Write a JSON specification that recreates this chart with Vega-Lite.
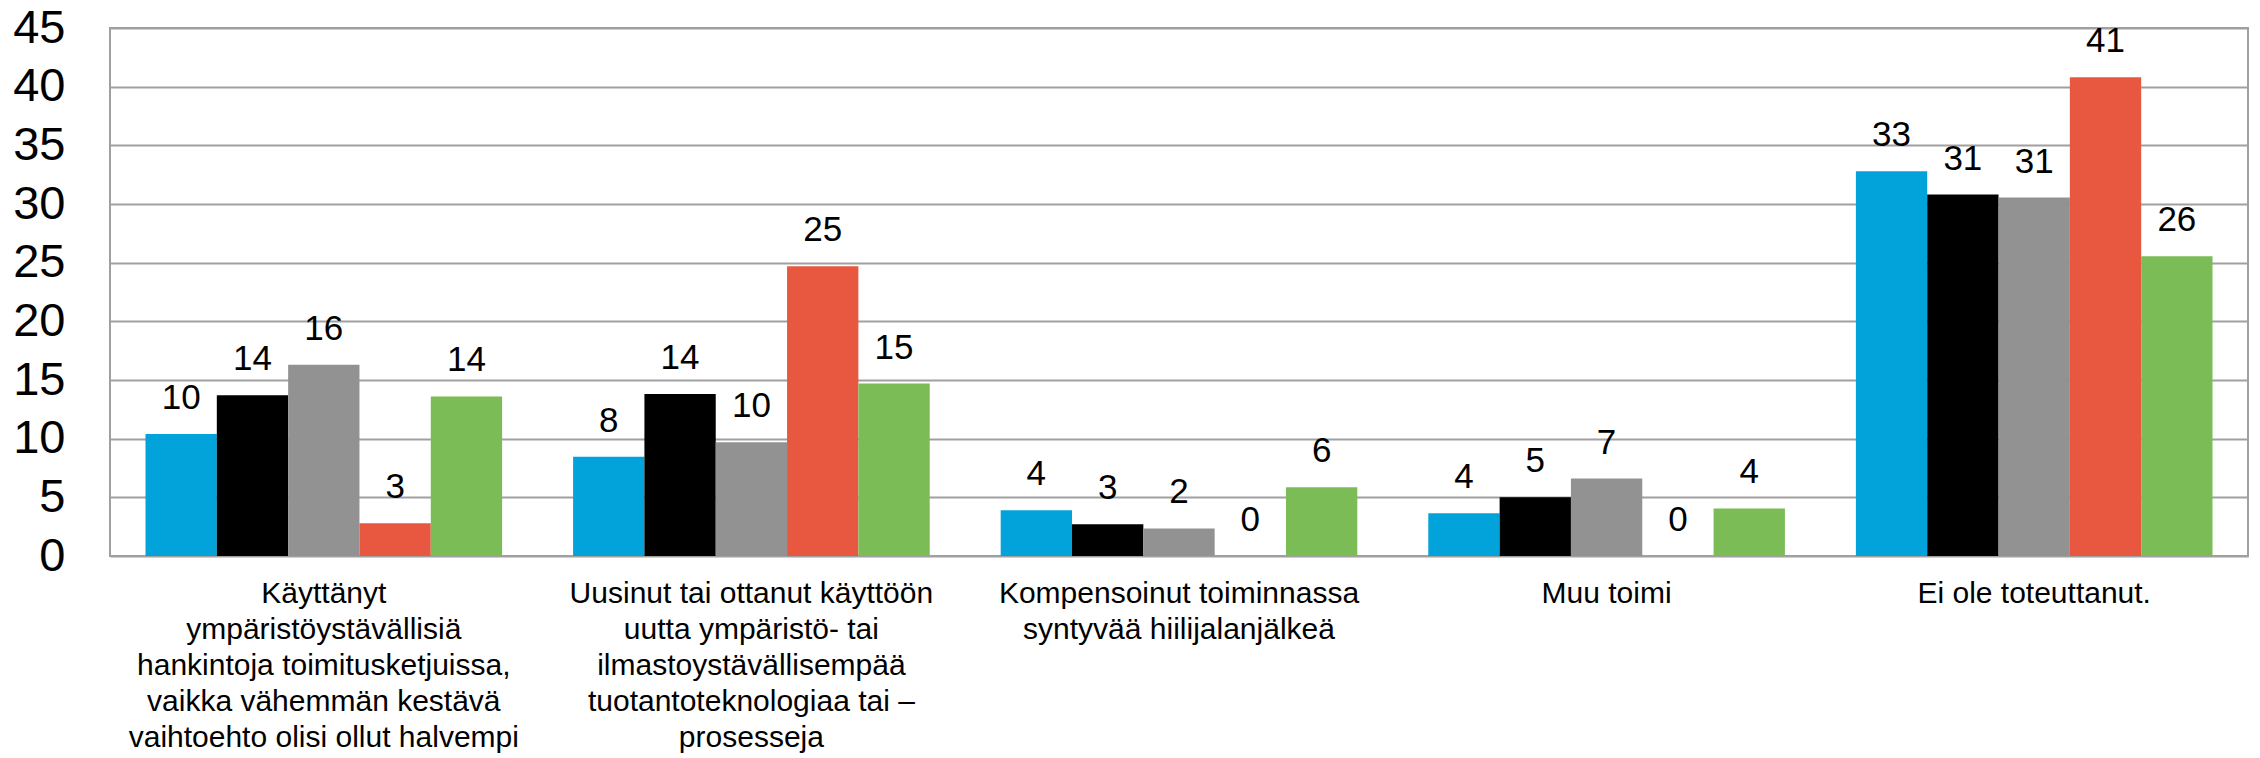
{
  "$schema": "https://vega.github.io/schema/vega-lite/v6.json",
  "width": 2138,
  "height": 528,
  "autosize": {"type": "none"},
  "padding": {"left": 110, "top": 28, "right": 12, "bottom": 202},
  "background": "white",
  "config": {
    "view": {"stroke": "#A0A0A0", "strokeWidth": 2},
    "font": "Liberation Sans"
  },
  "data": {
    "values": [
      {"category": "Käyttänyt|ympäristöystävällisiä|hankintoja toimitusketjuissa,|vaikka vähemmän kestävä|vaihtoehto olisi ollut halvempi", "series": "s1", "value": 10.4},
      {"category": "Käyttänyt|ympäristöystävällisiä|hankintoja toimitusketjuissa,|vaikka vähemmän kestävä|vaihtoehto olisi ollut halvempi", "series": "s2", "value": 13.7},
      {"category": "Käyttänyt|ympäristöystävällisiä|hankintoja toimitusketjuissa,|vaikka vähemmän kestävä|vaihtoehto olisi ollut halvempi", "series": "s3", "value": 16.3},
      {"category": "Käyttänyt|ympäristöystävällisiä|hankintoja toimitusketjuissa,|vaikka vähemmän kestävä|vaihtoehto olisi ollut halvempi", "series": "s4", "value": 2.8},
      {"category": "Käyttänyt|ympäristöystävällisiä|hankintoja toimitusketjuissa,|vaikka vähemmän kestävä|vaihtoehto olisi ollut halvempi", "series": "s5", "value": 13.6},
      {"category": "Uusinut tai ottanut käyttöön|uutta ympäristö- tai|ilmastoystävällisempää|tuotantoteknologiaa tai –|prosesseja", "series": "s1", "value": 8.45},
      {"category": "Uusinut tai ottanut käyttöön|uutta ympäristö- tai|ilmastoystävällisempää|tuotantoteknologiaa tai –|prosesseja", "series": "s2", "value": 13.8},
      {"category": "Uusinut tai ottanut käyttöön|uutta ympäristö- tai|ilmastoystävällisempää|tuotantoteknologiaa tai –|prosesseja", "series": "s3", "value": 9.7},
      {"category": "Uusinut tai ottanut käyttöön|uutta ympäristö- tai|ilmastoystävällisempää|tuotantoteknologiaa tai –|prosesseja", "series": "s4", "value": 24.7},
      {"category": "Uusinut tai ottanut käyttöön|uutta ympäristö- tai|ilmastoystävällisempää|tuotantoteknologiaa tai –|prosesseja", "series": "s5", "value": 14.7},
      {"category": "Kompensoinut toiminnassa|syntyvää hiilijalanjälkeä", "series": "s1", "value": 3.9},
      {"category": "Kompensoinut toiminnassa|syntyvää hiilijalanjälkeä", "series": "s2", "value": 2.7},
      {"category": "Kompensoinut toiminnassa|syntyvää hiilijalanjälkeä", "series": "s3", "value": 2.35},
      {"category": "Kompensoinut toiminnassa|syntyvää hiilijalanjälkeä", "series": "s4", "value": 0},
      {"category": "Kompensoinut toiminnassa|syntyvää hiilijalanjälkeä", "series": "s5", "value": 5.85},
      {"category": "Muu toimi", "series": "s1", "value": 3.65},
      {"category": "Muu toimi", "series": "s2", "value": 5.0},
      {"category": "Muu toimi", "series": "s3", "value": 6.6},
      {"category": "Muu toimi", "series": "s4", "value": 0},
      {"category": "Muu toimi", "series": "s5", "value": 4.05},
      {"category": "Ei ole toteuttanut.", "series": "s1", "value": 32.8},
      {"category": "Ei ole toteuttanut.", "series": "s2", "value": 30.8},
      {"category": "Ei ole toteuttanut.", "series": "s3", "value": 30.55},
      {"category": "Ei ole toteuttanut.", "series": "s4", "value": 40.8},
      {"category": "Ei ole toteuttanut.", "series": "s5", "value": 25.55}
    ]
  },
  "encoding": {
    "x": {
      "field": "category",
      "type": "nominal",
      "sort": null,
      "scale": {"paddingInner": 0.166, "paddingOuter": 0.083},
      "axis": {
        "title": null,
        "labelAngle": 0,
        "domain": false,
        "ticks": false,
        "labelExpr": "split(datum.label, '|')",
        "labelFontSize": 30,
        "labelLineHeight": 36,
        "labelPadding": 22,
        "labelBaseline": "top",
        "labelColor": "black",
        "labelLimit": 0,
        "labelFont": "Liberation Sans"
      }
    },
    "xOffset": {"field": "series", "type": "nominal", "sort": null, "scale": {"paddingInner": 0, "paddingOuter": 0}},
    "y": {
      "field": "value",
      "type": "quantitative",
      "scale": {"domain": [0, 45]},
      "axis": {
        "title": null,
        "values": [0, 5, 10, 15, 20, 25, 30, 35, 40, 45],
        "domain": false,
        "ticks": false,
        "labelFontSize": 47,
        "labelPadding": 45,
        "labelColor": "black",
        "gridColor": "#A0A0A0",
        "gridWidth": 2,
        "labelFont": "Liberation Sans"
      }
    }
  },
  "layer": [
    {
      "mark": {"type": "bar"},
      "encoding": {
        "color": {
          "field": "series",
          "type": "nominal",
          "scale": {
            "domain": ["s1", "s2", "s3", "s4", "s5"],
            "range": ["#02A3DA", "#000000", "#929292", "#E85841", "#7BBC56"]
          },
          "legend": null
        }
      }
    },
    {
      "mark": {"type": "text", "baseline": "bottom", "dy": -18, "fontSize": 35, "color": "black"},
      "encoding": {
        "text": {"field": "value", "type": "quantitative", "format": ".0f"}
      }
    }
  ]
}
